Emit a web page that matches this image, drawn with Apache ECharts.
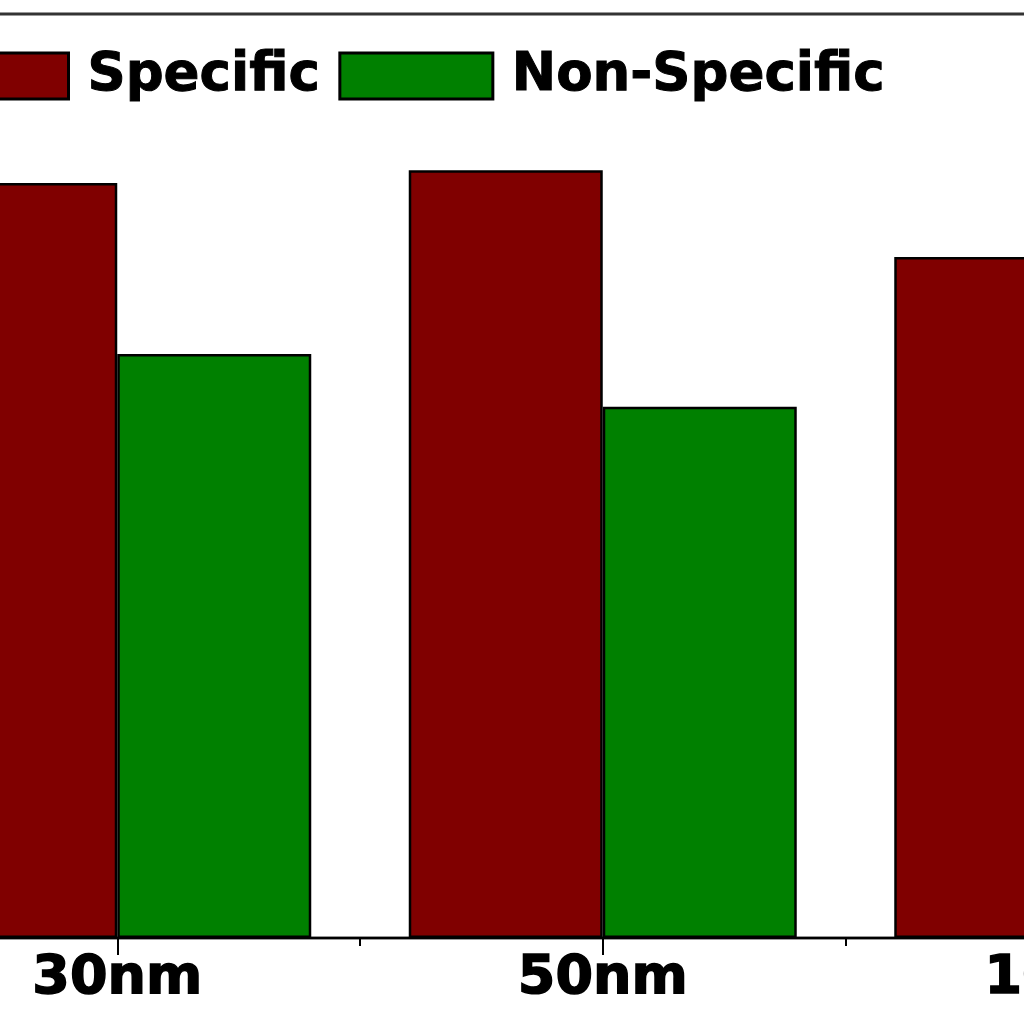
<!DOCTYPE html>
<html>
<head>
<meta charset="utf-8">
<script src="https://cdn.jsdelivr.net/npm/echarts@6/dist/echarts.min.js"></script>
<style>
html,body{margin:0;padding:0;background:#fff;}
#chart{width:1024px;height:1024px;}
</style>
</head>
<body>
<div id="chart"></div>
<script>
const categories = ['30nm', '50nm', '100nm'];
const seriesNames = ['Specific', 'Non-Specific'];
const specificValues = [81.7, 83.1, 73.7];
const nonSpecificValues = [63.2, 57.5, 55.0];

const chart = echarts.init(document.getElementById('chart'), null, {renderer: 'canvas'});
const catW = 485.5;
const fontFam = '"DejaVu Sans", "Liberation Sans", Arial, sans-serif';
chart.setOption({
  animation: false,
  backgroundColor: '#ffffff',
  legend: {
    left: -91,
    top: 44,
    icon: 'rect',
    itemWidth: 153,
    itemHeight: 46,
    itemGap: 18,
    data: seriesNames,
    textStyle: {fontFamily: fontFam, fontWeight: 'bold', fontSize: 53, color: '#000',
      textBorderColor: '#000', textBorderWidth: 1, padding: [0, 0, 0, 14]},
    itemStyle: {borderColor: '#000', borderWidth: 3}
  },
  grid: {
    left: 360 - catW,
    width: catW * categories.length,
    top: 14,
    bottom: 86,
    show: true,
    borderColor: '#333',
    borderWidth: 3,
    containLabel: false,
    outerBoundsMode: 'none'
  },
  xAxis: [{
    type: 'category',
    data: categories,
    axisLine: {show: true, lineStyle: {color: '#000', width: 2}},
    axisTick: {show: true, alignWithLabel: true, length: 17, lineStyle: {color: '#000', width: 2}},
    axisLabel: {fontFamily: fontFam, fontWeight: 'bold', fontSize: 54, color: '#000', margin: 14,
      textBorderColor: '#000', textBorderWidth: 1.5}
  }, {
    type: 'category',
    data: categories,
    position: 'bottom',
    axisLine: {show: false},
    axisTick: {show: true, length: 8, lineStyle: {color: '#000', width: 2}},
    axisLabel: {show: false}
  }],
  yAxis: {
    type: 'value',
    min: 0,
    max: 100,
    show: false,
    splitLine: {show: false}
  },
  series: [{
    name: seriesNames[0],
    type: 'bar',
    data: specificValues,
    barWidth: 194,
    barGap: '0%',
    itemStyle: {color: '#800000', borderColor: '#000', borderWidth: 2.5}
  }, {
    name: seriesNames[1],
    type: 'bar',
    data: nonSpecificValues,
    barWidth: 194,
    barGap: '0%',
    itemStyle: {color: '#008000', borderColor: '#000', borderWidth: 2.5}
  }]
});
</script>
</body>
</html>
